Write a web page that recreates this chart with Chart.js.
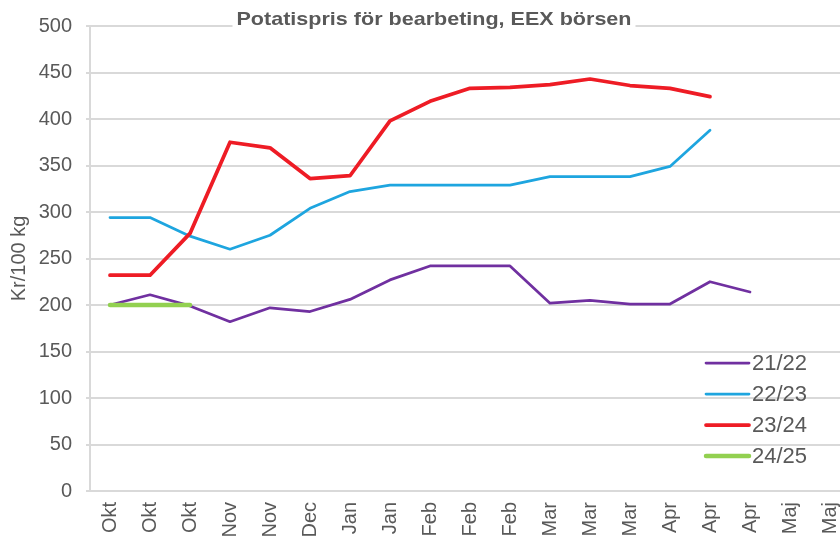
<!DOCTYPE html>
<html>
<head>
<meta charset="utf-8">
<script src="https://cdn.jsdelivr.net/npm/chart.js"></script>
<style>
    html, body { margin: 0; padding: 0; overflow: hidden; background: #ffffff; }
    #wrap { width: 865px; height: 560px; }
</style>
</head>
<body>
<div id="wrap"><canvas id="potatisChart" width="865" height="560"></canvas></div>
<script>
// Månader (x-axel)
const months = ['Okt', 'Okt', 'Okt', 'Nov', 'Nov', 'Dec', 'Jan', 'Jan', 'Feb', 'Feb', 'Feb',
    'Mar', 'Mar', 'Mar', 'Apr', 'Apr', 'Apr', 'Maj', 'Maj'];

// Pris per säsong, kr/100 kg
const season2122 = [200, 211, 199, 182, 197, 193, 206, 227, 242, 242, 242, 202, 205, 201, 201, 225, 214];
const season2223 = [294, 294, 274, 260, 275, 304, 322, 329, 329, 329, 329, 338, 338, 338, 349, 388];
const season2324 = [232, 232, 277, 375, 369, 336, 339, 398, 419, 433, 434, 437, 443, 436, 433, 424];
const season2425 = [200, 200, 200];

const textColor = '#595959';
const gridColor = '#d9d9d9';
const fontFamily = '"Liberation Sans", Arial, sans-serif';

// Title drawn over the top gridline with a white box behind it
const titlePlugin = {
    id: 'boxTitle',
    afterDraw(chart) {
        const ctx = chart.ctx;
        const text = 'Potatispris för bearbeting, EEX börsen';
        ctx.save();
        ctx.font = 'bold 19px ' + fontFamily;
        const w = ctx.measureText(text).width;
        const targetW = 395; // title is a bit wider in the original
        const cx = 434, cy = 20;
        ctx.fillStyle = '#ffffff';
        ctx.fillRect(cx - targetW / 2 - 4, cy - 11, targetW + 8, 22);
        ctx.translate(cx, cy);
        ctx.scale(targetW / w, 1);
        ctx.fillStyle = textColor;
        ctx.textAlign = 'center';
        ctx.textBaseline = 'middle';
        ctx.fillText(text, 0, 0);
        ctx.restore();
    }
};

// Legend inside the plot area, bottom right
const legendPlugin = {
    id: 'innerLegend',
    afterDraw(chart) {
        const ctx = chart.ctx;
        ctx.save();
        ctx.font = '22px ' + fontFamily;
        ctx.textBaseline = 'middle';
        chart.data.datasets.forEach((ds, i) => {
            const y = 363 + i * 31;
            ctx.strokeStyle = ds.borderColor;
            ctx.lineWidth = ds.borderWidth;
            ctx.lineCap = 'round';
            ctx.beginPath();
            ctx.moveTo(706, y);
            ctx.lineTo(749, y);
            ctx.stroke();
            ctx.fillStyle = textColor;
            ctx.fillText(ds.label, 752, y + 1);
        });
        ctx.restore();
    }
};

// later seasons are drawn on top (lower order = drawn last)
function line(label, data, color, width, order) {
    return {
        label: label,
        data: data,
        borderColor: color,
        backgroundColor: color,
        borderWidth: width,
        borderCapStyle: 'round',
        borderJoinStyle: 'round',
        pointRadius: 0,
        tension: 0,
        fill: false,
        order: order
    };
}

new Chart(document.getElementById('potatisChart'), {
    type: 'line',
    data: {
        labels: months,
        datasets: [
            line('21/22', season2122, '#7030a0', 2.75, 3),
            line('22/23', season2223, '#1ea5df', 2.75, 2),
            line('23/24', season2324, '#ee1c25', 3.75, 1),
            line('24/25', season2425, '#92d050', 4.5, 0)
        ]
    },
    options: {
        responsive: false,
        animation: false,
        devicePixelRatio: 1,
        layout: { padding: { top: 23, right: 0, bottom: 0, left: 0 } },
        plugins: {
            legend: { display: false },
            title: { display: false },
            tooltip: { enabled: false }
        },
        scales: {
            x: {
                offset: true,
                grid: { display: false, drawTicks: false },
                border: { color: gridColor, width: 2 },
                ticks: {
                    autoSkip: false,
                    maxRotation: 90,
                    minRotation: 90,
                    padding: 11,
                    color: textColor,
                    font: { family: fontFamily, size: 20 }
                },
                afterFit(scale) { scale.height = 69; }
            },
            y: {
                min: 0,
                max: 500,
                ticks: {
                    stepSize: 50,
                    padding: 14,
                    color: textColor,
                    font: { family: fontFamily, size: 20 }
                },
                grid: { color: gridColor, lineWidth: 2, tickLength: 4 },
                border: { color: gridColor, width: 2 },
                title: {
                    display: true,
                    text: 'Kr/100 kg',
                    color: textColor,
                    padding: { top: 7, bottom: 0 },
                    font: { family: fontFamily, size: 20 }
                },
                afterFit(scale) { scale.width = 90; }
            }
        }
    },
    plugins: [titlePlugin, legendPlugin]
});
</script>
</body>
</html>
